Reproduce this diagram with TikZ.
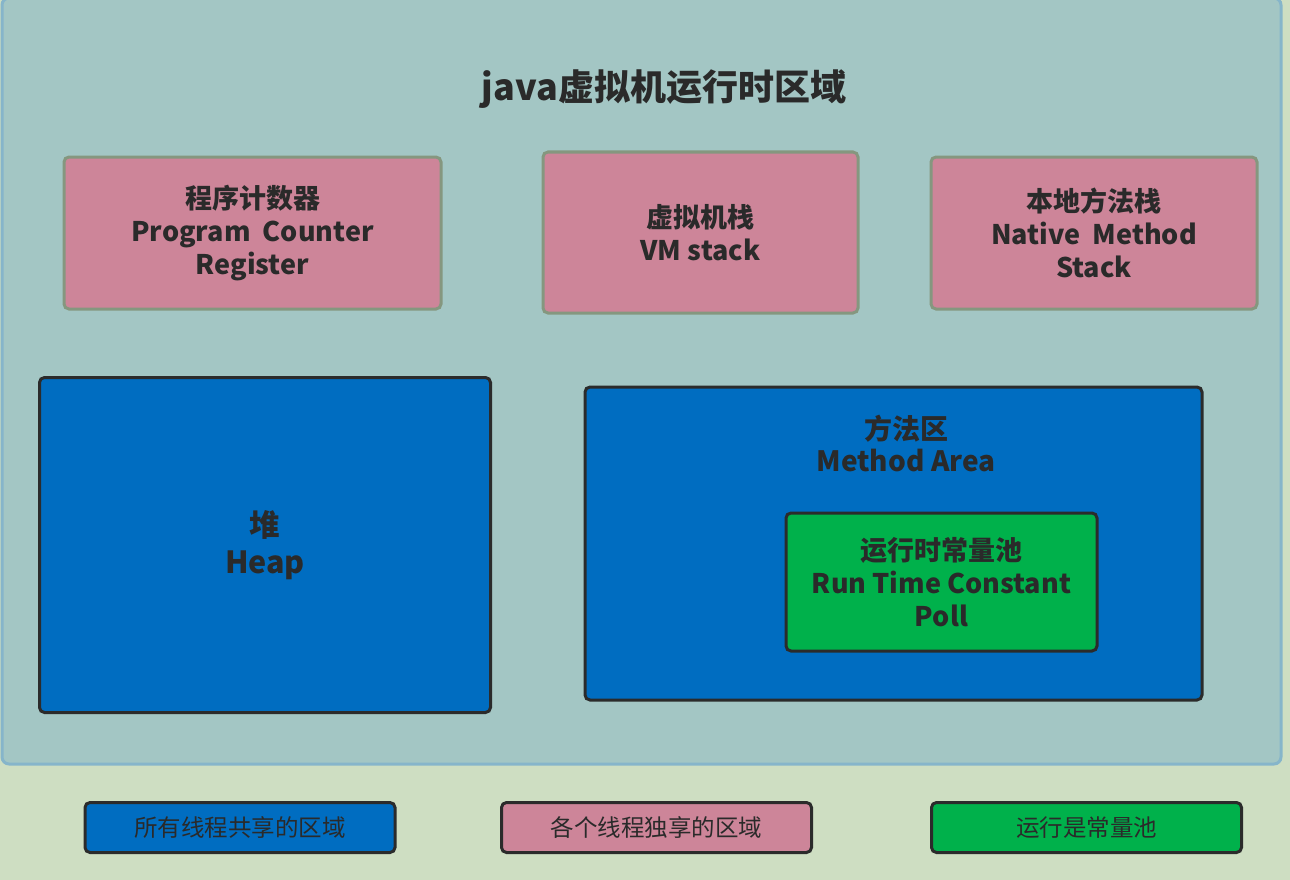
\documentclass[tikz,border=0pt]{standalone}
\usepackage{fontspec}
\setmainfont{Noto Sans CJK SC}
\definecolor{bgout}{HTML}{CEDEC2}
\definecolor{panel}{HTML}{A3C6C4}
\definecolor{panelline}{HTML}{86B5CA}
\definecolor{pinkf}{HTML}{CD8599}
\definecolor{pinkl}{HTML}{85977F}
\definecolor{bluef}{HTML}{006DC1}
\definecolor{greenf}{HTML}{00B14B}
\definecolor{darkl}{HTML}{2B2B2B}
\definecolor{txt}{HTML}{2A2A2A}
\tikzset{
  base/.style={rounded corners=5pt, line width=3pt, inner sep=0pt, align=center, text=txt, font=\fontsize{27}{33}\selectfont\bfseries},
  pinkbox/.style={base, fill=pinkf, draw=pinkl},
  bluebox/.style={base, fill=bluef, draw=darkl},
  greenbox/.style={base, fill=greenf, draw=darkl},
  legend/.style={rounded corners=5pt, line width=3pt, inner sep=0pt, align=center, text=txt, draw=darkl, minimum width=310pt, minimum height=50pt, font=\fontsize{23.5}{28}\selectfont},
  lbl/.style={align=center, text=txt, inner sep=0pt}
}
\begin{document}
\begin{tikzpicture}[x=1pt,y=-1pt]
\useasboundingbox[fill=bgout] (0,0) rectangle (1290,880);
\draw[fill=panel, draw=panelline, line width=3pt, rounded corners=7pt] (2,-2) rectangle (1281,764);
\node[lbl, font=\fontsize{36}{42}\selectfont\bfseries] (title) at (664,89) {java虚拟机运行时区域};
\node[pinkbox, minimum width=377pt, minimum height=152pt] (pc) at (252.5,233) {程序计数器\\Program~~Counter\\Register};
\node[pinkbox, minimum width=315pt, minimum height=161pt] (vm) at (700.5,232.5) {虚拟机栈\\VM stack};
\node[pinkbox, minimum width=326pt, minimum height=152pt] (ns) at (1094,233) {本地方法栈\\Native~~Method\\Stack};
\node[bluebox, minimum width=451pt, minimum height=335pt, font=\fontsize{30.5}{37}\selectfont\bfseries] (heap) at (265,545) {堆\\Heap};
\node[bluebox, minimum width=617pt, minimum height=313pt] (ma) at (893.5,543.5) {};
\node[lbl, font=\fontsize{28}{32}\selectfont\bfseries, anchor=north] (matext) at (906,415) {方法区\\Method Area};
\node[greenbox, minimum width=311pt, minimum height=138pt] (rcp) at (941.5,582) {运行时常量池\\Run Time Constant\\Poll};
\node[legend, fill=bluef] (l1) at (240,827.5) {所有线程共享的区域};
\node[legend, fill=pinkf] (l2) at (656.5,827.5) {各个线程独享的区域};
\node[legend, fill=greenf] (l3) at (1086.5,827.5) {运行是常量池};
\end{tikzpicture}
\end{document}
